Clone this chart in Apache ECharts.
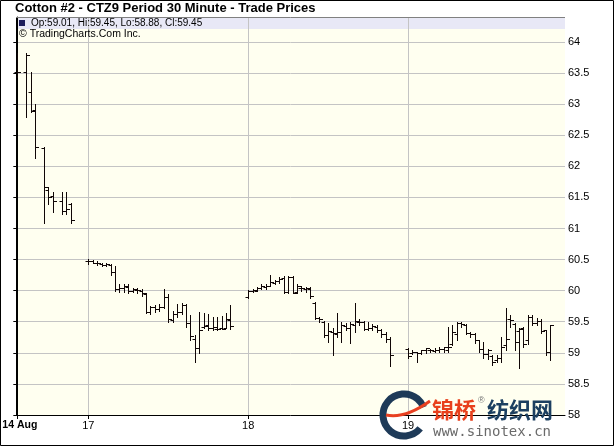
<!DOCTYPE html>
<html><head><meta charset="utf-8">
<script src="https://cdn.jsdelivr.net/npm/echarts@6/dist/echarts.min.js"></script>
<style>html,body{margin:0;padding:0;background:#fff}#c{width:614px;height:446px}</style>
</head><body><div id="c"></div>
<script>
// ---- data: 30-minute OHLC bars, x = bar slot index ----
const dayTicks = [0, 16, 52, 88];
const dayLabels = ['14 Aug', '17', '18', '19'];
const slots = [0,2,3,4,6,7,8,10,11,12,
 16,17,18,19,20,21,22,23,24,25,26,27,28,29,30,31,32,33,34,35,36,37,38,39,40,41,42,43,44,45,46,47,48,
 52,53,54,55,56,57,58,59,60,61,62,63,64,65,66,67,68,69,70,71,72,73,74,75,76,77,78,79,80,81,82,83,84,
 88,89,90,91,92,93,94,95,96,97,98,99,100,101,102,103,104,105,106,107,108,109,110,111,112,113,114,115,116,117,118,119,120];
const opens = [63.51,63.51,63.19,62.91,62.29,61.62,61.52,61.45,61.28,61.40,
 60.47,60.47,60.45,60.43,60.41,60.42,60.30,60.03,60.05,60.06,60.00,60.01,60.00,59.95,59.66,59.73,59.70,59.74,59.90,59.53,59.62,59.66,59.77,59.48,59.22,59.07,59.42,59.44,59.40,59.38,59.40,59.40,59.53,
 59.90,60.00,60.00,60.04,60.06,60.08,60.13,60.15,60.20,59.98,60.22,59.98,60.05,60.03,60.03,59.80,59.56,59.50,59.28,59.34,59.30,59.34,59.43,59.40,59.45,59.50,59.50,59.38,59.40,59.42,59.36,59.30,59.22,
 59.06,59.00,59.02,59.00,59.04,59.05,59.03,59.04,59.06,59.05,59.15,59.30,59.48,59.44,59.32,59.30,59.20,59.06,58.98,58.95,58.88,58.92,59.13,59.55,59.46,59.35,59.40,59.20,59.58,59.48,59.52,59.36,59.01];
const highs = [63.83,63.82,63.51,63.01,62.31,61.67,61.59,61.59,61.58,61.41,
 60.51,60.49,60.47,60.44,60.45,60.43,60.40,60.10,60.10,60.10,60.05,60.04,60.02,59.97,59.76,59.77,59.78,60.02,59.94,59.68,59.78,59.80,59.79,59.61,59.29,59.66,59.64,59.62,59.58,59.57,59.60,59.64,59.77,
 60.01,60.02,60.06,60.10,60.10,60.25,60.17,60.22,60.24,60.23,60.24,60.10,60.08,60.06,60.06,59.82,59.58,59.52,59.48,59.40,59.64,59.50,59.48,59.50,59.80,59.55,59.52,59.50,59.46,59.44,59.38,59.33,59.26,
 59.07,59.04,59.02,59.05,59.08,59.06,59.07,59.10,59.10,59.42,59.45,59.50,59.50,59.46,59.34,59.32,59.21,59.18,59.06,58.97,58.97,59.26,59.72,59.61,59.48,59.40,59.42,59.61,59.61,59.56,59.54,59.37,59.45];
const lows = [63.43,62.80,62.88,62.13,61.09,61.39,61.27,61.23,61.23,61.09,
 60.43,60.44,60.42,60.40,60.39,60.25,60.00,59.98,59.98,59.96,59.98,59.97,59.92,59.64,59.63,59.65,59.68,59.72,59.50,59.50,59.58,59.63,59.41,59.21,58.86,59.00,59.40,59.37,59.37,59.36,59.38,59.40,59.39,
 59.89,59.98,59.99,60.02,60.02,60.07,60.10,60.13,59.96,59.96,59.96,59.96,60.00,59.98,59.89,59.55,59.50,59.26,59.18,58.96,59.26,59.18,59.36,59.16,59.34,59.44,59.37,59.36,59.36,59.34,59.26,59.18,58.79,
 58.91,58.98,58.86,58.98,59.00,59.01,59.01,59.02,59.02,59.02,59.13,59.21,59.42,59.30,59.26,59.16,59.02,58.91,58.90,58.80,58.86,58.86,59.05,59.42,59.05,58.75,59.10,59.15,59.45,59.45,59.32,58.97,58.88];
const closes = [63.51,63.79,62.89,62.31,61.67,61.51,61.45,61.28,61.31,61.14,
 60.47,60.45,60.44,60.41,60.43,60.30,60.03,60.05,60.08,59.99,60.02,60.01,59.96,59.66,59.74,59.70,59.74,59.90,59.54,59.62,59.66,59.77,59.48,59.27,59.07,59.36,59.43,59.40,59.42,59.38,59.39,59.55,59.43,
 60.00,60.01,60.04,60.08,60.08,60.14,60.15,60.19,59.98,60.22,59.97,60.07,60.04,60.04,59.92,59.56,59.55,59.28,59.35,59.32,59.34,59.44,59.40,59.47,59.52,59.50,59.38,59.40,59.43,59.36,59.30,59.22,58.97,
 58.95,59.02,59.00,59.05,59.07,59.05,59.04,59.06,59.09,59.10,59.33,59.48,59.46,59.32,59.30,59.20,59.06,58.98,59.04,58.86,58.92,59.10,59.22,59.53,59.18,59.38,59.15,59.58,59.48,59.52,59.35,59.02,59.45];
const yTicks = [58,58.5,59,59.5,60,60.5,61,61.5,62,62.5,63,63.5,64];

const bars = slots.map((s,i)=>[s, opens[i], highs[i], lows[i], closes[i]]);
const last = bars.length - 1;
const fmt = v => v.toFixed(2);

const chart = echarts.init(document.getElementById('c'), null, {renderer:'canvas'});
const FONT = '"Liberation Sans", Arial, sans-serif';

function renderBar(params, api){
  const x = api.value(0);
  const o = api.coord([x, api.value(1)]);
  const h = api.coord([x, api.value(2)]);
  const l = api.coord([x, api.value(3)]);
  const c = api.coord([x, api.value(4)]);
  const px = Math.round(o[0]) + 0.5;
  const t = 3, col = '#100606';
  return {type:'group', children:[
    {type:'line', shape:{x1:px, y1:Math.round(h[1]), x2:px, y2:Math.round(l[1])+1}, style:{stroke:col, lineWidth:1}},
    {type:'line', shape:{x1:px-t, y1:Math.round(o[1])+0.5, x2:px, y2:Math.round(o[1])+0.5}, style:{stroke:col, lineWidth:1}},
    {type:'line', shape:{x1:px, y1:Math.round(c[1])+0.5, x2:px+t+0.5, y2:Math.round(c[1])+0.5}, style:{stroke:col, lineWidth:1}}
  ]};
}
function renderGrid(params, api){
  const x = api.value(0);
  const a = api.coord([x, 58]);
  const px = Math.round(a[0]) + 0.5;
  return {type:'line', shape:{x1:px, y1:17, x2:px, y2:Math.round(a[1])}, style:{stroke:'#c4c4c4', lineWidth:1}};
}

chart.setOption({
  animation:false,
  backgroundColor:'#ffffff',
  title:{text:'Cotton #2 - CTZ9 Period 30 Minute - Trade Prices', left:15, top:1, padding:0,
    textStyle:{fontFamily:FONT, fontSize:13, fontWeight:'bold', color:'#000', lineHeight:15}},
  grid:{left:16, right:49, top:17, bottom:31, containLabel:false, outerBoundsMode:'none'},
  xAxis:{type:'value', min:-0.293, max:123.36,
    axisLine:{show:true, lineStyle:{color:'#000', width:1}},
    axisTick:{show:true, customValues:dayTicks, length:4, lineStyle:{color:'#000'}},
    axisLabel:{customValues:dayTicks, margin:5, fontFamily:FONT, fontSize:11, color:'#000',
      formatter:function(v){const i = dayTicks.indexOf(Math.round(v)); if(i<0) return ''; return i===0 ? '{b|'+dayLabels[i]+'}' : dayLabels[i];},
      rich:{b:{fontWeight:'bold', fontFamily:FONT, fontSize:10.5, color:'#000', padding:[0,0,0,5]}}},
    splitLine:{show:false}},
  yAxis:{type:'value', position:'right', min:58, max:64.402, interval:0.5,
    axisLine:{show:true, lineStyle:{color:'#000', width:1}},
    axisTick:{show:true, inside:true, length:4, customValues:yTicks, lineStyle:{color:'#000'}},
    axisLabel:{customValues:yTicks, margin:3, fontFamily:FONT, fontSize:11, color:'#000'},
    splitLine:{show:true, lineStyle:{color:'#c4c4c4', width:1}}},
  series:[
    {type:'custom', z:1, silent:true, renderItem:renderGrid, data:dayTicks.slice(1).map(d=>[d]), encode:{x:0}},
    {type:'custom', z:3, silent:true, renderItem:renderBar, data:bars, encode:{x:0, y:[1,2,3,4]}}
  ],
  graphic:[
    {type:'rect', z:-10, silent:true, shape:{x:16, y:17, width:549, height:398}, style:{fill:'#fffff0'}},
    {type:'rect', z:-9, silent:true, shape:{x:16, y:17, width:549, height:12}, style:{fill:'#e8e8f6'}},
    {type:'line', z:20, silent:true, shape:{x1:16.5, y1:17, x2:16.5, y2:416}, style:{stroke:'#000', lineWidth:1}},
    {type:'line', z:20, silent:true, shape:{x1:16, y1:17.5, x2:565, y2:17.5}, style:{stroke:'#808080', lineWidth:1}},
    {type:'rect', z:20, silent:true, shape:{x:19, y:20, width:6, height:6}, style:{fill:'#1c1c5c'}},
    {type:'text', z:20, silent:true, x:31, y:23.5, style:{text:'Op:'+fmt(opens[last])+', Hi:'+fmt(highs[last])+', Lo:'+fmt(lows[last])+', Cl:'+fmt(closes[last]),
      font:'10px '+FONT, fill:'#000', verticalAlign:'middle'}},
    {type:'text', z:20, silent:true, x:19, y:34.5, style:{text:'\u00a9 TradingCharts.Com Inc.', font:'10.5px '+FONT, fill:'#000', verticalAlign:'middle'}},
    // watermark logo
    {type:'arc', z:30, silent:true, shape:{cx:404, cy:415, r:21, startAngle:Math.PI*0.22, endAngle:Math.PI*1.88}, style:{stroke:'#1e3a58', lineWidth:7, fill:null}},
    {type:'bezierCurve', z:31, silent:true, shape:{x1:386, y1:415, x2:430, y2:401, cpx1:400, cpy1:418, cpx2:416, cpy2:411}, style:{stroke:'#e84020', lineWidth:3, fill:null}},
    {type:'text', z:31, silent:true, x:432, y:410, style:{text:'锦桥', font:'bold 22px "Noto Sans CJK SC", sans-serif', fill:'#e8401c', verticalAlign:'middle'}},
    {type:'text', z:31, silent:true, x:478, y:401, style:{text:'®', font:'9px '+FONT, fill:'#777', verticalAlign:'middle'}},
    {type:'text', z:31, silent:true, x:487, y:410, style:{text:'纺织网', font:'bold 22px "Noto Sans CJK SC", sans-serif', fill:'#1c3f60', verticalAlign:'middle'}},
    {type:'text', z:31, silent:true, x:433, y:432, style:{text:'www.sinotex.cn', font:'14px "DejaVu Sans Mono", monospace', fill:'#6a6a6a', verticalAlign:'middle'}},
    {type:'rect', z:40, silent:true, shape:{x:0.5, y:0.5, width:613, height:445}, style:{fill:null, stroke:'#000', lineWidth:1}}
  ]
});
</script></body></html>
